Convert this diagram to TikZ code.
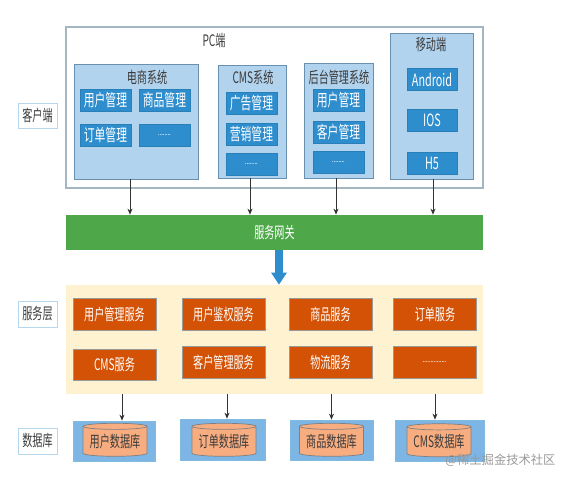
\documentclass[tikz,border=0pt]{standalone}
\usepackage{fontspec}
\usepackage{xcolor}
\usepackage{tikz}
\setmainfont[FakeStretch=0.64]{Noto Sans CJK SC}
\newfontfamily\markfont{Noto Sans CJK SC}
\usetikzlibrary{shapes.geometric, arrows.meta, positioning}
\definecolor{cFrame}{RGB}{165,182,195}
\definecolor{cSys}{RGB}{178,211,238}
\definecolor{cSysLine}{RGB}{105,145,175}
\definecolor{cMod}{RGB}{46,141,205}
\definecolor{cGate}{RGB}{78,168,74}
\definecolor{cSvcBg}{RGB}{255,242,208}
\definecolor{cSvc}{RGB}{212,82,5}
\definecolor{cDb}{RGB}{125,181,229}
\definecolor{cCyl}{RGB}{248,173,128}
\definecolor{cText}{RGB}{60,60,60}
\tikzset{
	sysbox/.style   ={rectangle, draw=cSysLine, fill=cSys},
	modbox/.style   ={rectangle, draw=cMod!90!black, fill=cMod, text=white, minimum width=1.02cm, minimum height=0.44cm, inner sep=0pt, font=\fontsize{9.6}{10}\selectfont},
	title/.style    ={text=cText, inner sep=0pt, font=\fontsize{9}{10}\selectfont},
	layerlabel/.style={rectangle, draw=cMod!35, fill=white, text=cText, minimum width=0.78cm, minimum height=0.5cm, inner sep=0pt, font=\fontsize{9}{10}\selectfont},
	svcbox/.style   ={rectangle, draw=black!40, fill=cSvc, text=white, minimum width=1.66cm, minimum height=0.63cm, inner sep=0pt, font=\fontsize{9}{10}\selectfont},
	dbbox/.style    ={rectangle, draw=cMod!60, fill=cDb},
	dbcyl/.style    ={cylinder, shape border rotate=90, aspect=0.12, draw=black!50, fill=cCyl, text=cText, minimum width=1.28cm, minimum height=0.66cm, inner sep=0pt, font=\fontsize{9}{10}\selectfont},
	sig/.style      ={-{Stealth[length=1.2mm,width=1mm]}, black!80, thin},
}
\begin{document}
\begin{tikzpicture}
	\useasboundingbox (0,0) rectangle (11.36,9.62);
	% client layer
	\node[rectangle, draw=cFrame, semithick, fill=white, minimum width=8.34cm, minimum height=3.22cm] (pc) at (5.49,7.47) {};
	\node[title] (pctitle) at (4.28,8.80) {PC端};
	\node[layerlabel] (lclient) at (0.75,7.31) {客户端};
	\node[sysbox, minimum width=2.48cm, minimum height=2.30cm] (shop) at (2.72,7.19) {};
	\node[title] (shoptitle) at (2.94,8.08) {电商系统};
	\node[modbox] (shopuser) at (2.11,7.62) {用户管理};
	\node[modbox] (shopgoods) at (3.29,7.62) {商品管理};
	\node[modbox] (shoporder) at (2.11,6.92) {订单管理};
	\node[modbox] (shopmore) at (3.29,6.92) {\tiny ........};
	\node[sysbox, minimum width=1.36cm, minimum height=2.26cm] (cms) at (5.04,7.19) {};
	\node[title] (cmstitle) at (5.06,8.08) {CMS系统};
	\node[modbox] (cmsad) at (5.03,7.56) {广告管理};
	\node[modbox] (cmsmkt) at (5.03,6.93) {营销管理};
	\node[modbox] (cmsmore) at (5.03,6.34) {\tiny ........};
	\node[sysbox, minimum width=1.38cm, minimum height=2.30cm] (admin) at (6.77,7.21) {};
	\node[title] (admintitle) at (6.78,8.08) {后台管理系统};
	\node[modbox] (adminuser) at (6.77,7.62) {用户管理};
	\node[modbox] (admincust) at (6.77,6.98) {客户管理};
	\node[modbox] (adminmore) at (6.77,6.37) {\tiny ........};
	\node[sysbox, minimum width=1.66cm, minimum height=2.92cm] (mobile) at (8.63,7.50) {};
	\node[title] (mobiletitle) at (8.62,8.72) {移动端};
	\node[modbox, minimum width=1cm] (android) at (8.64,8.03) {Android};
	\node[modbox, minimum width=1cm] (ios) at (8.64,7.21) {IOS};
	\node[modbox, minimum width=1cm] (hfive) at (8.64,6.35) {H5};
	% gateway
	\node[rectangle, fill=cGate, text=white, minimum width=8.34cm, minimum height=0.70cm, font=\fontsize{9}{10}\selectfont] (gate) at (5.49,4.97) {服务网关};
	\draw[sig] ([xshift=-0.12cm]shop.south) -- ([xshift=-0.12cm]shop.south |- gate.north);
	\draw[sig] ([xshift=-0.04cm]cms.south) -- ([xshift=-0.04cm]cms.south |- gate.north);
	\draw[sig] ([xshift=-0.05cm]admin.south) -- ([xshift=-0.05cm]admin.south |- gate.north);
	\draw[sig] ([xshift=0.03cm]mobile.south) -- ([xshift=0.03cm]mobile.south |- gate.north);
	% service layer
	\node[rectangle, fill=cSvcBg, minimum width=8.34cm, minimum height=2.18cm] (area) at (5.49,2.83) {};
	\draw[-{Triangle[length=2.4mm,width=3mm]}, line width=1.6mm, cMod] ([xshift=0.09cm]gate.south) -- ([xshift=0.09cm]area.north);
	\node[layerlabel, minimum height=0.52cm] (lservice) at (0.75,3.34) {服务层};
	\node[svcbox] (svcuser) at (2.29,3.33) {用户管理服务};
	\node[svcbox] (svccms) at (2.29,2.32) {CMS服务};
	\node[svcbox] (svcauth) at (4.47,3.33) {用户鉴权服务};
	\node[svcbox] (svccust) at (4.47,2.37) {客户管理服务};
	\node[svcbox] (svcgoods) at (6.61,3.33) {商品服务};
	\node[svcbox] (svcship) at (6.61,2.37) {物流服务};
	\node[svcbox] (svcorder) at (8.70,3.33) {订单服务};
	\node[svcbox] (svcmore) at (8.69,2.37) {\tiny ...............};
	% database layer
	\node[layerlabel, minimum height=0.52cm] (ldata) at (0.75,0.80) {数据库};
	\node[dbbox, minimum width=1.64cm, minimum height=0.80cm] (dbuser) at (2.28,0.80) {};
	\node[dbbox, minimum width=1.70cm, minimum height=0.82cm] (dborder) at (4.45,0.83) {};
	\node[dbbox, minimum width=1.66cm, minimum height=0.80cm] (dbgoods) at (6.63,0.82) {};
	\node[dbbox, minimum width=1.78cm, minimum height=0.82cm] (dbcms) at (8.79,0.81) {};
	\node[dbcyl] (cyluser) at (2.30,0.79) {用户数据库};
	\node[dbcyl] (cylorder) at (4.48,0.79) {订单数据库};
	\node[dbcyl] (cylgoods) at (6.63,0.79) {商品数据库};
	\node[dbcyl] (cylcms) at (8.78,0.78) {CMS数据库};
	\draw[sig] ([xshift=0.16cm]dbuser.north |- area.south) -- ([xshift=0.16cm]dbuser.north);
	\draw[sig] ([xshift=0.09cm]dborder.north |- area.south) -- ([xshift=0.09cm]dborder.north);
	\draw[sig] (dbgoods.north |- area.south) -- (dbgoods.north);
	\draw[sig] ([xshift=-0.09cm]dbcms.north |- area.south) -- ([xshift=-0.09cm]dbcms.north);
	\node[text=black!40, inner sep=0pt, font=\markfont\fontsize{7}{8}\selectfont] (mark) at (10.01,0.42) {@稀土掘金技术社区};
\end{tikzpicture}
\end{document}
